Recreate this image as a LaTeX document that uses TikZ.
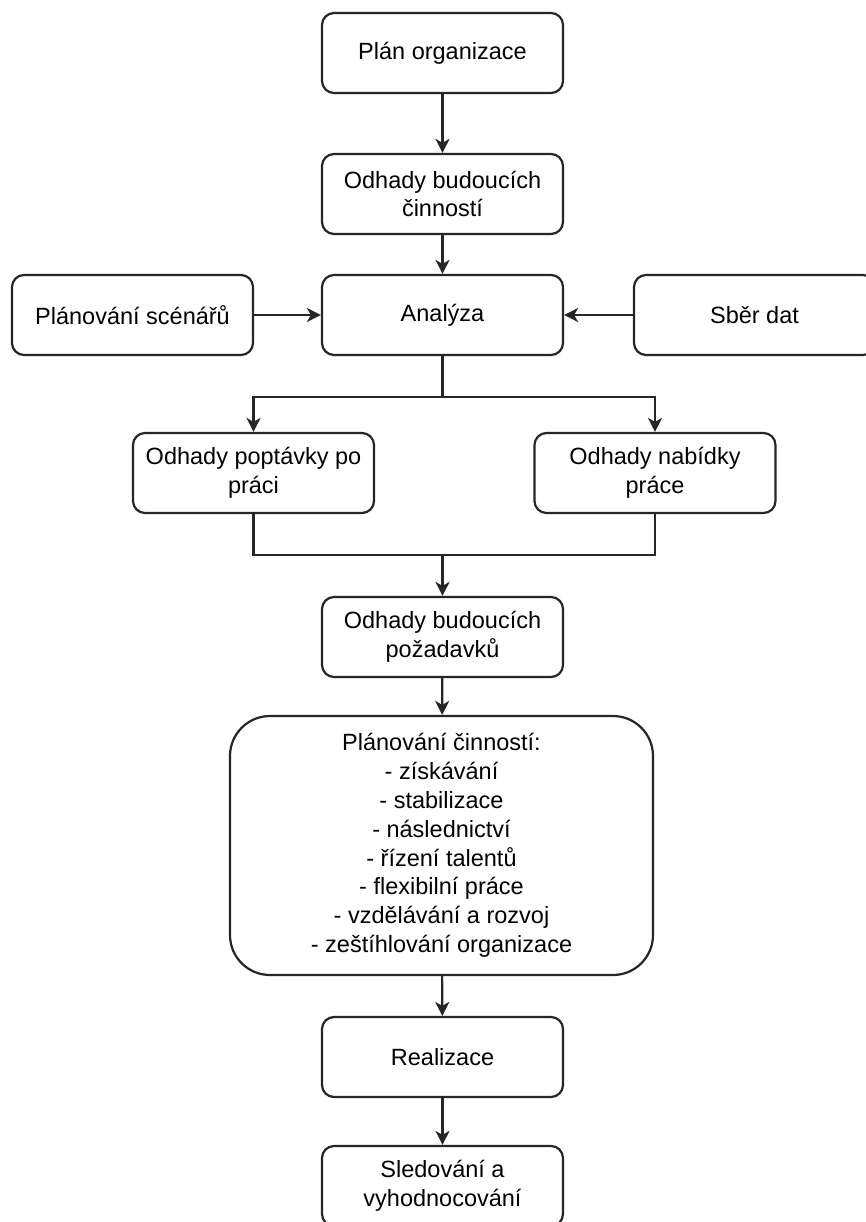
\documentclass[tikz,border=0pt]{standalone}
\usepackage{fontspec}
\setmainfont{Liberation Sans}
\usetikzlibrary{arrows.meta}
\begin{document}
\begin{tikzpicture}[x=1pt,y=-1pt,
  box/.style={draw=black!85, line width=2.2pt, rounded corners=12pt, fill=white,
    minimum width=241pt, minimum height=80pt, align=center, inner sep=0pt,
    font=\fontsize{23.5}{28.8}\selectfont},
  bigbox/.style={box, rounded corners=40pt, minimum width=423pt, minimum height=259pt},
  conn/.style={draw=black!85, line width=2.2pt},
  arr/.style={conn, -{Stealth[length=14pt,width=14pt,inset=4pt]}}]
\fill[white] (0,0) rectangle (865,1222);
\useasboundingbox (0,0) rectangle (865,1222);
\node[box] (a) at (442.5,53) {Plán organizace};
\node[box] (b) at (442.5,194) {Odhady budoucích\\činností};
\node[box] (c) at (442.5,315) {Analýza};
\node[box] (d) at (132.5,315) {Plánování scénářů};
\node[box] (e) at (754.5,315) {Sběr dat};
\node[box] (f) at (253.5,473) {Odhady poptávky po\\práci};
\node[box] (g) at (655,473) {Odhady nabídky\\práce};
\node[box] (h) at (442.5,637) {Odhady budoucích\\požadavků};
\node[bigbox] (i) at (441.5,845.5) {Plánování činností:\\- získávání\\- stabilizace\\- následnictví\\- řízení talentů\\- flexibilní práce\\- vzdělávání a rozvoj\\- zeštíhlování organizace};
\node[box] (j) at (442.5,1057) {Realizace};
\node[box] (k) at (442.5,1186) {Sledování a\\vyhodnocování};
\coordinate (br) at (442.5,397);
\coordinate (m) at (442.5,555);
\draw[arr] (a) -- (b);
\draw[arr] (b) -- (c);
\draw[arr] (d) -- (c);
\draw[arr] (e) -- (c);
\draw[conn] (c.south) -- (br);
\draw[arr] (br) -| (f.north);
\draw[arr] (br) -| (g.north);
\draw[conn] (f.south) |- (m) -| (g.south);
\draw[arr] (m) -- (h.north);
\draw[arr] (h) -- (i);
\draw[arr] (i) -- (j);
\draw[arr] (j) -- (k);
\end{tikzpicture}
\end{document}
